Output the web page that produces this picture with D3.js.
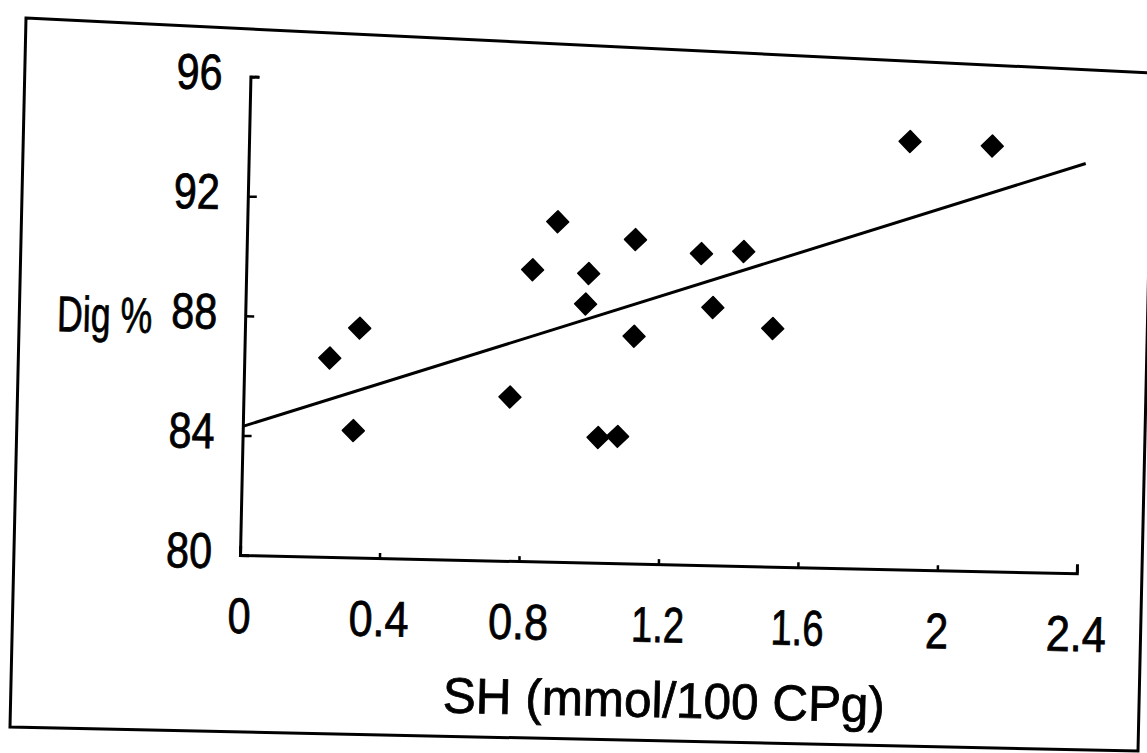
<!DOCTYPE html>
<html>
<head>
<meta charset="utf-8">
<script src="https://cdn.jsdelivr.net/npm/d3@7"></script>
<style>
  html, body { margin: 0; padding: 0; background: #ffffff; }
  svg { display: block; }
  text { font-family: "Liberation Sans", Arial, sans-serif; fill: #000; stroke: #000; stroke-width: 0.8px; }
</style>
</head>
<body>
<svg id="chart" width="1147" height="753"></svg>
<script>
// ---- data ----
const shValues  = [0.245, 0.329, 0.317, 0.764, 0.821, 0.890, 0.982, 0.975, 1.019, 1.075, 1.114, 1.116, 1.304, 1.340, 1.425, 1.513, 1.895, 2.131];
const digValues = [86.65, 87.67, 84.24, 85.48, 89.75, 91.37, 89.66, 88.64, 84.19, 84.24, 90.83, 87.60, 90.41, 88.62, 90.51, 87.96, 94.31, 94.22];
const trendX = [0, 2.4];
const trendY = [84.3, 93.7];
const xTicks = [0, 0.4, 0.8, 1.2, 1.6, 2, 2.4];
const xTickLabels = ["0", "0.4", "0.8", "1.2", "1.6", "2", "2.4"];
const yTicks = [80, 84, 88, 92, 96];
const yTickLabels = ["80", "84", "88", "92", "96"];
const xTitle = "SH (mmol/100 CPg)";
const yTitle = "Dig %";

// ---- layout ----
const svg = d3.select("#chart");
const ox = 240, oy = 555;           // axis origin
const tilt = 1.25;                  // scan rotation (deg)

// condensed glyph widths of the original bitmap font
const charW = c => c === "." ? 14 : c === "1" ? 16 : 23;
const labelW = s => Array.from(s).reduce((a, c) => a + charW(c), 0);

// outer frame (scanned, slightly skewed)
const frame = [[26, 18], [1153, 73], [1138, 751], [10, 727]];
svg.append("path")
  .attr("d", d3.line()(frame) + "Z")
  .attr("fill", "none").attr("stroke", "#000").attr("stroke-width", 3);

const root = svg.append("g").attr("transform", `rotate(${tilt},${ox},${oy})`);

const x = d3.scaleLinear().domain([0, 2.4]).range([ox, 1077]);
const y = d3.scaleLinear().domain([80, 96]).range([oy, 76.4]);

// y axis
const yAxis = d3.axisLeft(y)
  .tickValues(yTicks)
  .tickFormat((d, i) => yTickLabels[i])
  .tickSizeInner(-9).tickSizeOuter(-9).tickPadding(28);
const gy = root.append("g").attr("transform", `translate(${ox},0)`).call(yAxis);
gy.select(".domain").attr("stroke-width", 3);
gy.selectAll(".tick line").attr("stroke-width", 2.5);
gy.selectAll(".tick text")
  .attr("dy", "13px").attr("font-size", 50)
  .attr("textLength", (d, i) => labelW(yTickLabels[i]))
  .attr("lengthAdjust", "spacingAndGlyphs");

// x axis
const xAxis = d3.axisBottom(x)
  .tickValues(xTicks)
  .tickFormat((d, i) => xTickLabels[i])
  .tickSizeInner(-5).tickSizeOuter(-9).tickPadding(78);
const gx = root.append("g").attr("transform", `translate(0,${oy})`).call(xAxis);
gx.select(".domain").attr("stroke-width", 3);
gx.selectAll(".tick line").attr("stroke-width", 2.5);
gx.selectAll(".tick text")
  .attr("dy", "0").attr("font-size", 50)
  .attr("textLength", (d, i) => labelW(xTickLabels[i]))
  .attr("lengthAdjust", "spacingAndGlyphs");

// axis titles
root.append("text")
  .attr("x", 147).attr("y", 335)
  .attr("text-anchor", "end")
  .attr("font-size", 50)
  .attr("textLength", 95).attr("lengthAdjust", "spacingAndGlyphs")
  .text(yTitle);

root.append("text")
  .attr("x", 446).attr("y", 708)
  .attr("font-size", 50)
  .attr("textLength", 442).attr("lengthAdjust", "spacingAndGlyphs")
  .text(xTitle);

// trend line
root.append("line")
  .attr("x1", x(trendX[0])).attr("y1", y(trendY[0]))
  .attr("x2", x(trendX[1])).attr("y2", y(trendY[1]))
  .attr("stroke", "#000").attr("stroke-width", 3);

// points
const pts = shValues.map((v, i) => ({ sh: v, dig: digValues[i] }));
root.append("g").selectAll("path")
  .data(pts)
  .join("path")
  .attr("d", d3.symbol(d3.symbolSquare, 240))
  .attr("transform", d => `translate(${x(d.sh)},${y(d.dig)}) rotate(45)`)
  .attr("fill", "#000")
  .attr("stroke", "#000")
  .attr("stroke-width", 1.5)
  .attr("stroke-linejoin", "round");
</script>
</body>
</html>
